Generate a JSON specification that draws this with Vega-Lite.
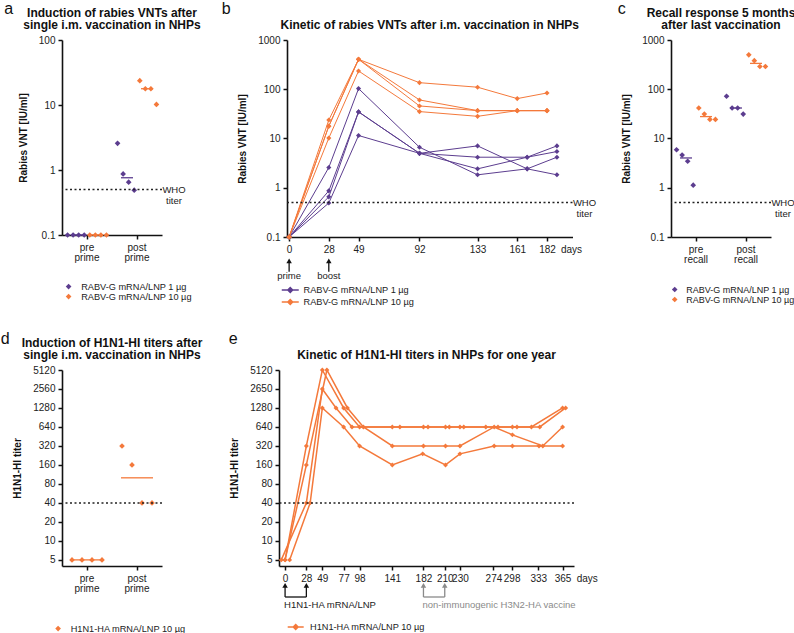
{
  "$schema": "https://vega.github.io/schema/vega-lite/v6.json",
  "background": "white",
  "padding": {"left": 0, "top": 0, "right": 0, "bottom": 0},
  "config": {
    "font": "Liberation Sans",
    "view": {"stroke": null},
    "axis": {"domainColor": "#111", "domainWidth": 1.6, "tickColor": "#111", "tickWidth": 1.5, "tickSize": 4, "labelFontSize": 10, "labelColor": "#222", "titleFontSize": 10, "titleFontWeight": "bold", "titleColor": "#111", "grid": false, "labelOverlap": false, "labelFlush": false, "labelPadding": 3},
    "title": {"fontSize": 12, "fontWeight": "bold", "color": "#111", "anchor": "middle", "lineHeight": 12.5},
    "legend": {"labelFontSize": 9.2, "labelColor": "#222", "direction": "vertical", "padding": 0, "rowPadding": 0, "labelLimit": 300}
  },
  "datasets": {
    "a": [
      {"time": "pre prime", "group": "RABV-G mRNA/LNP 1 µg", "animal": "A1", "value": 0.1},
      {"time": "pre prime", "group": "RABV-G mRNA/LNP 1 µg", "animal": "A2", "value": 0.1},
      {"time": "pre prime", "group": "RABV-G mRNA/LNP 1 µg", "animal": "A3", "value": 0.1},
      {"time": "pre prime", "group": "RABV-G mRNA/LNP 1 µg", "animal": "A4", "value": 0.1},
      {"time": "pre prime", "group": "RABV-G mRNA/LNP 10 µg", "animal": "B1", "value": 0.1},
      {"time": "pre prime", "group": "RABV-G mRNA/LNP 10 µg", "animal": "B2", "value": 0.1},
      {"time": "pre prime", "group": "RABV-G mRNA/LNP 10 µg", "animal": "B3", "value": 0.1},
      {"time": "pre prime", "group": "RABV-G mRNA/LNP 10 µg", "animal": "B4", "value": 0.1},
      {"time": "post prime", "group": "RABV-G mRNA/LNP 1 µg", "animal": "A1", "value": 2.57},
      {"time": "post prime", "group": "RABV-G mRNA/LNP 1 µg", "animal": "A2", "value": 0.87},
      {"time": "post prime", "group": "RABV-G mRNA/LNP 1 µg", "animal": "A3", "value": 0.65},
      {"time": "post prime", "group": "RABV-G mRNA/LNP 1 µg", "animal": "A4", "value": 0.49},
      {"time": "post prime", "group": "RABV-G mRNA/LNP 10 µg", "animal": "B1", "value": 23.7},
      {"time": "post prime", "group": "RABV-G mRNA/LNP 10 µg", "animal": "B2", "value": 17.8},
      {"time": "post prime", "group": "RABV-G mRNA/LNP 10 µg", "animal": "B3", "value": 17.8},
      {"time": "post prime", "group": "RABV-G mRNA/LNP 10 µg", "animal": "B4", "value": 10.2}
    ],
    "c": [
      {"time": "pre recall", "group": "RABV-G mRNA/LNP 1 µg", "animal": "A1", "value": 5.9},
      {"time": "pre recall", "group": "RABV-G mRNA/LNP 1 µg", "animal": "A2", "value": 4.6},
      {"time": "pre recall", "group": "RABV-G mRNA/LNP 1 µg", "animal": "A3", "value": 3.45},
      {"time": "pre recall", "group": "RABV-G mRNA/LNP 1 µg", "animal": "A4", "value": 1.13},
      {"time": "pre recall", "group": "RABV-G mRNA/LNP 10 µg", "animal": "B1", "value": 41.6},
      {"time": "pre recall", "group": "RABV-G mRNA/LNP 10 µg", "animal": "B2", "value": 31.3},
      {"time": "pre recall", "group": "RABV-G mRNA/LNP 10 µg", "animal": "B3", "value": 24.4},
      {"time": "pre recall", "group": "RABV-G mRNA/LNP 10 µg", "animal": "B4", "value": 24.4},
      {"time": "post recall", "group": "RABV-G mRNA/LNP 1 µg", "animal": "A1", "value": 72},
      {"time": "post recall", "group": "RABV-G mRNA/LNP 1 µg", "animal": "A2", "value": 41.6},
      {"time": "post recall", "group": "RABV-G mRNA/LNP 1 µg", "animal": "A3", "value": 41.6},
      {"time": "post recall", "group": "RABV-G mRNA/LNP 1 µg", "animal": "A4", "value": 31.3},
      {"time": "post recall", "group": "RABV-G mRNA/LNP 10 µg", "animal": "B1", "value": 500},
      {"time": "post recall", "group": "RABV-G mRNA/LNP 10 µg", "animal": "B2", "value": 380},
      {"time": "post recall", "group": "RABV-G mRNA/LNP 10 µg", "animal": "B3", "value": 290},
      {"time": "post recall", "group": "RABV-G mRNA/LNP 10 µg", "animal": "B4", "value": 290}
    ],
    "d": [
      {"time": "pre prime", "group": "H1N1-HA mRNA/LNP 10 µg", "animal": "H1", "value": 5},
      {"time": "pre prime", "group": "H1N1-HA mRNA/LNP 10 µg", "animal": "H2", "value": 5},
      {"time": "pre prime", "group": "H1N1-HA mRNA/LNP 10 µg", "animal": "H3", "value": 5},
      {"time": "pre prime", "group": "H1N1-HA mRNA/LNP 10 µg", "animal": "H4", "value": 5},
      {"time": "post prime", "group": "H1N1-HA mRNA/LNP 10 µg", "animal": "H1", "value": 320},
      {"time": "post prime", "group": "H1N1-HA mRNA/LNP 10 µg", "animal": "H2", "value": 160},
      {"time": "post prime", "group": "H1N1-HA mRNA/LNP 10 µg", "animal": "H3", "value": 40},
      {"time": "post prime", "group": "H1N1-HA mRNA/LNP 10 µg", "animal": "H4", "value": 40}
    ],
    "b": [
      {"group": "RABV-G mRNA/LNP 1 µg", "animal": "P1", "day": 0, "value": 0.1},
      {"group": "RABV-G mRNA/LNP 1 µg", "animal": "P1", "day": 28, "value": 2.58},
      {"group": "RABV-G mRNA/LNP 1 µg", "animal": "P1", "day": 49, "value": 103},
      {"group": "RABV-G mRNA/LNP 1 µg", "animal": "P1", "day": 92, "value": 6.65},
      {"group": "RABV-G mRNA/LNP 1 µg", "animal": "P1", "day": 133, "value": 1.83},
      {"group": "RABV-G mRNA/LNP 1 µg", "animal": "P1", "day": 168, "value": 2.42},
      {"group": "RABV-G mRNA/LNP 1 µg", "animal": "P1", "day": 189, "value": 4.17},
      {"group": "RABV-G mRNA/LNP 1 µg", "animal": "P2", "day": 0, "value": 0.1},
      {"group": "RABV-G mRNA/LNP 1 µg", "animal": "P2", "day": 28, "value": 0.865},
      {"group": "RABV-G mRNA/LNP 1 µg", "animal": "P2", "day": 49, "value": 34.7},
      {"group": "RABV-G mRNA/LNP 1 µg", "animal": "P2", "day": 92, "value": 5.0},
      {"group": "RABV-G mRNA/LNP 1 µg", "animal": "P2", "day": 133, "value": 7.08},
      {"group": "RABV-G mRNA/LNP 1 µg", "animal": "P2", "day": 168, "value": 2.42},
      {"group": "RABV-G mRNA/LNP 1 µg", "animal": "P2", "day": 189, "value": 1.83},
      {"group": "RABV-G mRNA/LNP 1 µg", "animal": "P3", "day": 0, "value": 0.1},
      {"group": "RABV-G mRNA/LNP 1 µg", "animal": "P3", "day": 28, "value": 0.653},
      {"group": "RABV-G mRNA/LNP 1 µg", "animal": "P3", "day": 49, "value": 34.7},
      {"group": "RABV-G mRNA/LNP 1 µg", "animal": "P3", "day": 92, "value": 5.0},
      {"group": "RABV-G mRNA/LNP 1 µg", "animal": "P3", "day": 133, "value": 4.17},
      {"group": "RABV-G mRNA/LNP 1 µg", "animal": "P3", "day": 168, "value": 4.17},
      {"group": "RABV-G mRNA/LNP 1 µg", "animal": "P3", "day": 189, "value": 5.43},
      {"group": "RABV-G mRNA/LNP 1 µg", "animal": "P4", "day": 0, "value": 0.1},
      {"group": "RABV-G mRNA/LNP 1 µg", "animal": "P4", "day": 28, "value": 0.49},
      {"group": "RABV-G mRNA/LNP 1 µg", "animal": "P4", "day": 49, "value": 11.5},
      {"group": "RABV-G mRNA/LNP 1 µg", "animal": "P4", "day": 92, "value": 5.0},
      {"group": "RABV-G mRNA/LNP 1 µg", "animal": "P4", "day": 133, "value": 2.42},
      {"group": "RABV-G mRNA/LNP 1 µg", "animal": "P4", "day": 168, "value": 4.17},
      {"group": "RABV-G mRNA/LNP 1 µg", "animal": "P4", "day": 189, "value": 7.08},
      {"group": "RABV-G mRNA/LNP 10 µg", "animal": "O1", "day": 0, "value": 0.1},
      {"group": "RABV-G mRNA/LNP 10 µg", "animal": "O1", "day": 28, "value": 23.7},
      {"group": "RABV-G mRNA/LNP 10 µg", "animal": "O1", "day": 49, "value": 405},
      {"group": "RABV-G mRNA/LNP 10 µg", "animal": "O1", "day": 92, "value": 136},
      {"group": "RABV-G mRNA/LNP 10 µg", "animal": "O1", "day": 133, "value": 110},
      {"group": "RABV-G mRNA/LNP 10 µg", "animal": "O1", "day": 161, "value": 64.6},
      {"group": "RABV-G mRNA/LNP 10 µg", "animal": "O1", "day": 182, "value": 84},
      {"group": "RABV-G mRNA/LNP 10 µg", "animal": "O2", "day": 0, "value": 0.1},
      {"group": "RABV-G mRNA/LNP 10 µg", "animal": "O2", "day": 28, "value": 17.8},
      {"group": "RABV-G mRNA/LNP 10 µg", "animal": "O2", "day": 49, "value": 405},
      {"group": "RABV-G mRNA/LNP 10 µg", "animal": "O2", "day": 92, "value": 60.7},
      {"group": "RABV-G mRNA/LNP 10 µg", "animal": "O2", "day": 133, "value": 36.8},
      {"group": "RABV-G mRNA/LNP 10 µg", "animal": "O2", "day": 161, "value": 36.8},
      {"group": "RABV-G mRNA/LNP 10 µg", "animal": "O2", "day": 182, "value": 36.8},
      {"group": "RABV-G mRNA/LNP 10 µg", "animal": "O3", "day": 0, "value": 0.1},
      {"group": "RABV-G mRNA/LNP 10 µg", "animal": "O3", "day": 28, "value": 17.8},
      {"group": "RABV-G mRNA/LNP 10 µg", "animal": "O3", "day": 49, "value": 405},
      {"group": "RABV-G mRNA/LNP 10 µg", "animal": "O3", "day": 92, "value": 45.8},
      {"group": "RABV-G mRNA/LNP 10 µg", "animal": "O3", "day": 133, "value": 36.8},
      {"group": "RABV-G mRNA/LNP 10 µg", "animal": "O3", "day": 161, "value": 36.8},
      {"group": "RABV-G mRNA/LNP 10 µg", "animal": "O3", "day": 182, "value": 36.8},
      {"group": "RABV-G mRNA/LNP 10 µg", "animal": "O4", "day": 0, "value": 0.1},
      {"group": "RABV-G mRNA/LNP 10 µg", "animal": "O4", "day": 28, "value": 10.2},
      {"group": "RABV-G mRNA/LNP 10 µg", "animal": "O4", "day": 49, "value": 235},
      {"group": "RABV-G mRNA/LNP 10 µg", "animal": "O4", "day": 92, "value": 35.2},
      {"group": "RABV-G mRNA/LNP 10 µg", "animal": "O4", "day": 133, "value": 28.2},
      {"group": "RABV-G mRNA/LNP 10 µg", "animal": "O4", "day": 161, "value": 36.8},
      {"group": "RABV-G mRNA/LNP 10 µg", "animal": "O4", "day": 182, "value": 36.8}
    ],
    "e": [
      {"group": "H1N1-HA mRNA/LNP 10 µg", "animal": "A", "day": -5, "value": 5},
      {"group": "H1N1-HA mRNA/LNP 10 µg", "animal": "A", "day": 28, "value": 40},
      {"group": "H1N1-HA mRNA/LNP 10 µg", "animal": "A", "day": 49, "value": 2560},
      {"group": "H1N1-HA mRNA/LNP 10 µg", "animal": "A", "day": 67, "value": 1280},
      {"group": "H1N1-HA mRNA/LNP 10 µg", "animal": "A", "day": 88, "value": 640},
      {"group": "H1N1-HA mRNA/LNP 10 µg", "animal": "A", "day": 141, "value": 640},
      {"group": "H1N1-HA mRNA/LNP 10 µg", "animal": "A", "day": 182, "value": 640},
      {"group": "H1N1-HA mRNA/LNP 10 µg", "animal": "A", "day": 211, "value": 640},
      {"group": "H1N1-HA mRNA/LNP 10 µg", "animal": "A", "day": 230, "value": 640},
      {"group": "H1N1-HA mRNA/LNP 10 µg", "animal": "A", "day": 264, "value": 640},
      {"group": "H1N1-HA mRNA/LNP 10 µg", "animal": "A", "day": 299, "value": 640},
      {"group": "H1N1-HA mRNA/LNP 10 µg", "animal": "A", "day": 324, "value": 640},
      {"group": "H1N1-HA mRNA/LNP 10 µg", "animal": "A", "day": 365, "value": 1280},
      {"group": "H1N1-HA mRNA/LNP 10 µg", "animal": "B", "day": 0, "value": 5},
      {"group": "H1N1-HA mRNA/LNP 10 µg", "animal": "B", "day": 28, "value": 320},
      {"group": "H1N1-HA mRNA/LNP 10 µg", "animal": "B", "day": 49, "value": 5120},
      {"group": "H1N1-HA mRNA/LNP 10 µg", "animal": "B", "day": 77, "value": 1280},
      {"group": "H1N1-HA mRNA/LNP 10 µg", "animal": "B", "day": 98, "value": 640},
      {"group": "H1N1-HA mRNA/LNP 10 µg", "animal": "B", "day": 151, "value": 640},
      {"group": "H1N1-HA mRNA/LNP 10 µg", "animal": "B", "day": 188, "value": 640},
      {"group": "H1N1-HA mRNA/LNP 10 µg", "animal": "B", "day": 216, "value": 640},
      {"group": "H1N1-HA mRNA/LNP 10 µg", "animal": "B", "day": 235, "value": 640},
      {"group": "H1N1-HA mRNA/LNP 10 µg", "animal": "B", "day": 280, "value": 640},
      {"group": "H1N1-HA mRNA/LNP 10 µg", "animal": "B", "day": 305, "value": 640},
      {"group": "H1N1-HA mRNA/LNP 10 µg", "animal": "B", "day": 335, "value": 640},
      {"group": "H1N1-HA mRNA/LNP 10 µg", "animal": "B", "day": 369, "value": 1280},
      {"group": "H1N1-HA mRNA/LNP 10 µg", "animal": "C", "day": 0, "value": 5},
      {"group": "H1N1-HA mRNA/LNP 10 µg", "animal": "C", "day": 28, "value": 160},
      {"group": "H1N1-HA mRNA/LNP 10 µg", "animal": "C", "day": 55, "value": 5120},
      {"group": "H1N1-HA mRNA/LNP 10 µg", "animal": "C", "day": 82, "value": 1280},
      {"group": "H1N1-HA mRNA/LNP 10 µg", "animal": "C", "day": 103, "value": 640},
      {"group": "H1N1-HA mRNA/LNP 10 µg", "animal": "C", "day": 141, "value": 320},
      {"group": "H1N1-HA mRNA/LNP 10 µg", "animal": "C", "day": 182, "value": 320},
      {"group": "H1N1-HA mRNA/LNP 10 µg", "animal": "C", "day": 211, "value": 320},
      {"group": "H1N1-HA mRNA/LNP 10 µg", "animal": "C", "day": 230, "value": 320},
      {"group": "H1N1-HA mRNA/LNP 10 µg", "animal": "C", "day": 275, "value": 640},
      {"group": "H1N1-HA mRNA/LNP 10 µg", "animal": "C", "day": 299, "value": 480},
      {"group": "H1N1-HA mRNA/LNP 10 µg", "animal": "C", "day": 339, "value": 320},
      {"group": "H1N1-HA mRNA/LNP 10 µg", "animal": "C", "day": 365, "value": 640},
      {"group": "H1N1-HA mRNA/LNP 10 µg", "animal": "D", "day": 6, "value": 5},
      {"group": "H1N1-HA mRNA/LNP 10 µg", "animal": "D", "day": 33, "value": 40},
      {"group": "H1N1-HA mRNA/LNP 10 µg", "animal": "D", "day": 49, "value": 1280},
      {"group": "H1N1-HA mRNA/LNP 10 µg", "animal": "D", "day": 77, "value": 640},
      {"group": "H1N1-HA mRNA/LNP 10 µg", "animal": "D", "day": 98, "value": 320},
      {"group": "H1N1-HA mRNA/LNP 10 µg", "animal": "D", "day": 141, "value": 160},
      {"group": "H1N1-HA mRNA/LNP 10 µg", "animal": "D", "day": 181, "value": 240},
      {"group": "H1N1-HA mRNA/LNP 10 µg", "animal": "D", "day": 211, "value": 160},
      {"group": "H1N1-HA mRNA/LNP 10 µg", "animal": "D", "day": 230, "value": 240},
      {"group": "H1N1-HA mRNA/LNP 10 µg", "animal": "D", "day": 275, "value": 320},
      {"group": "H1N1-HA mRNA/LNP 10 µg", "animal": "D", "day": 299, "value": 320},
      {"group": "H1N1-HA mRNA/LNP 10 µg", "animal": "D", "day": 334, "value": 320},
      {"group": "H1N1-HA mRNA/LNP 10 µg", "animal": "D", "day": 365, "value": 320}
    ],
    "who": [{"titer": 0.5, "label": ["WHO", "titer"]}],
    "hi40": [{"titer": 40}],
    "ann_b": [{"day": 0, "label": "prime"}, {"day": 28, "label": "boost"}],
    "ann_e": [
      {"day": 0, "end": 28, "label": "H1N1-HA mRNA/LNP", "kind": "mRNA"},
      {"day": 182, "end": 210, "label": "non-immunogenic H3N2-HA vaccine", "kind": "H3N2"}
    ]
  },
  "spacing": 22,
  "resolve": {"scale": {"x": "independent", "y": "independent", "color": "independent", "xOffset": "independent"}, "axis": {"x": "independent", "y": "independent"}, "legend": {"color": "independent"}},
  "vconcat": [
    {
      "spacing": 20,
      "resolve": {"scale": {"x": "independent", "y": "independent", "color": "independent", "xOffset": "independent"}, "axis": {"x": "independent", "y": "independent"}, "legend": {"color": "independent"}},
      "hconcat": [
        {
          "title": {"text": "a", "fontSize": 16, "fontWeight": "normal", "anchor": "start", "frame": "bounds", "offset": -23, "dx": -14, "baseline": "alphabetic"},
          "resolve": {"scale": {"x": "independent", "y": "independent", "color": "independent", "xOffset": "independent"}, "legend": {"color": "independent"}},
          "vconcat": [
            {
              "width": 100, "height": 195,
              "title": {"text": ["Induction of rabies VNTs after", "single i.m. vaccination in NHPs"], "frame": "group", "offset": 3, "lineHeight": 12.5},
              "layer": [
                {
                  "data": {"name": "a"},
                  "mark": {"type": "point", "shape": "diamond", "filled": true, "size": 32, "opacity": 1},
                  "encoding": {
                    "x": {"field": "time", "type": "nominal", "scale": {"type": "band", "domain": ["pre prime", "post prime"], "paddingInner": 0, "paddingOuter": 0}, "axis": {"title": null, "labelAngle": 0, "labelExpr": "split(datum.label, ' ')", "labelLineHeight": 10.5}},
                    "xOffset": {"field": "animal", "type": "nominal", "scale": {"domain": ["A1", "A2", "A3", "A4", "B1", "B2", "B3", "B4"], "paddingInner": 0, "paddingOuter": 1.55}},
                    "y": {"field": "value", "type": "quantitative", "title": "Rabies VNT [IU/ml]", "scale": {"type": "log", "domain": [0.1, 100], "nice": false}, "axis": {"values": [0.1, 1, 10, 100], "tickCount": 20, "labelExpr": "format(datum.value, '~g')", "titlePadding": 10, "labelOverlap": false}},
                    "color": {"field": "group", "type": "nominal", "scale": {"domain": ["RABV-G mRNA/LNP 1 µg", "RABV-G mRNA/LNP 10 µg"], "range": ["#5c3d8f", "#f4793b"]}, "legend": {"title": null, "orient": "none", "legendX": 2, "legendY": 242, "symbolType": "diamond", "symbolSize": 32, "labelOffset": 8}}
                  }
                },
                {
                  "data": {"name": "a"},
                  "transform": [{"aggregate": [{"op": "median", "field": "value", "as": "value"}], "groupby": ["time", "group"]}],
                  "mark": {"type": "tick", "thickness": 1.3, "size": 12, "opacity": 1},
                  "encoding": {
                    "x": {"field": "time", "type": "nominal"},
                    "xOffset": {"field": "group", "type": "nominal", "scale": {"domain": ["RABV-G mRNA/LNP 1 µg", "RABV-G mRNA/LNP 10 µg"], "paddingInner": 0, "paddingOuter": 0.25}},
                    "y": {"field": "value", "type": "quantitative", "title": "Rabies VNT [IU/ml]"},
                    "color": {"field": "group", "type": "nominal", "legend": null}
                  }
                },
                {
                  "data": {"name": "who"},
                  "mark": {"type": "rule", "strokeDash": [2, 2.5], "strokeWidth": 1.5, "color": "#222"},
                  "encoding": {"y": {"field": "titer", "type": "quantitative", "title": "Rabies VNT [IU/ml]"}}
                },
                {
                  "data": {"name": "who"},
                  "mark": {"type": "text", "align": "center", "baseline": "middle", "fontSize": 9.5, "lineHeight": 11, "dx": 12, "color": "#222"},
                  "encoding": {"x": {"value": "width"}, "y": {"field": "titer", "type": "quantitative", "title": "Rabies VNT [IU/ml]"}, "text": {"field": "label"}}
                }
              ],
              "resolve": {"scale": {"xOffset": "independent"}}
            }
          ]
        },
        {
          "title": {"text": "b", "fontSize": 16, "fontWeight": "normal", "anchor": "start", "frame": "bounds", "offset": -23, "dx": -16, "baseline": "alphabetic"},
          "resolve": {"scale": {"x": "independent", "y": "independent", "color": "independent", "xOffset": "independent"}, "legend": {"color": "independent"}},
          "vconcat": [
            {
              "width": 285.5, "height": 197,
              "title": {"text": [" ", "Kinetic of rabies VNTs after i.m. vaccination in NHPs"], "frame": "group", "offset": 3, "lineHeight": 12.5},
              "layer": [
                {
                  "data": {"name": "b"},
                  "mark": {"type": "line", "strokeWidth": 1},
                  "encoding": {
                    "x": {"field": "day", "type": "quantitative", "title": "days", "scale": {"domain": [-1.5, 200], "nice": false, "zero": false}, "axis": {"values": [0, 28, 49, 92, 133, 161, 182], "tickCount": 20, "labelOverlap": false, "title": "days", "titleX": 284, "titleY": 12, "titleBaseline": "middle", "titleAlign": "center", "titleAngle": 0, "titleFontWeight": "normal", "titleFontSize": 10, "titleColor": "#222"}},
                    "y": {"field": "value", "type": "quantitative", "title": "Rabies VNT [IU/ml]", "scale": {"type": "log", "domain": [0.1, 1000], "nice": false}, "axis": {"values": [0.1, 1, 10, 100, 1000], "tickCount": 20, "labelExpr": "format(datum.value, '~g')", "titlePadding": 10, "labelOverlap": false}},
                    "color": {"field": "group", "type": "nominal", "scale": {"domain": ["RABV-G mRNA/LNP 1 µg", "RABV-G mRNA/LNP 10 µg"], "range": ["#5c3d8f", "#f4793b"]}, "legend": {"title": null, "orient": "none", "legendX": -1.75, "legendY": 245, "symbolType": "M-2,0L2,0M0,-0.6L0.6,0L0,0.6L-0.6,0Z", "symbolSize": 72.25, "symbolStrokeWidth": 1.3, "labelOffset": 8.25}},
                    "detail": {"field": "animal"}
                  }
                },
                {
                  "data": {"name": "b"},
                  "mark": {"type": "point", "shape": "diamond", "filled": true, "size": 26, "opacity": 1},
                  "encoding": {
                    "x": {"field": "day", "type": "quantitative", "title": "days"},
                    "y": {"field": "value", "type": "quantitative", "title": "Rabies VNT [IU/ml]"},
                    "color": {"field": "group", "type": "nominal", "legend": null}
                  }
                },
                {
                  "data": {"name": "who"},
                  "mark": {"type": "rule", "strokeDash": [2, 2.5], "strokeWidth": 1.5, "color": "#222"},
                  "encoding": {"y": {"field": "titer", "type": "quantitative", "title": "Rabies VNT [IU/ml]"}}
                },
                {
                  "data": {"name": "who"},
                  "mark": {"type": "text", "align": "center", "baseline": "middle", "fontSize": 9.5, "lineHeight": 11, "dx": 12, "color": "#222"},
                  "encoding": {"x": {"value": "width"}, "y": {"field": "titer", "type": "quantitative", "title": "Rabies VNT [IU/ml]"}, "text": {"field": "label"}}
                },
                {
                  "data": {"name": "ann_b"},
                  "mark": {"type": "rule", "color": "#111", "strokeWidth": 1.3},
                  "encoding": {"x": {"field": "day", "type": "quantitative", "title": "days"}, "y": {"datum": 0.0326, "title": "Rabies VNT [IU/ml]"}, "y2": {"datum": 0.0197}}
                },
                {
                  "data": {"name": "ann_b"},
                  "mark": {"type": "point", "shape": "triangle-up", "filled": true, "size": 30, "color": "#111", "opacity": 1},
                  "encoding": {"x": {"field": "day", "type": "quantitative", "title": "days"}, "y": {"datum": 0.0326, "title": "Rabies VNT [IU/ml]"}}
                },
                {
                  "data": {"name": "ann_b"},
                  "mark": {"type": "text", "fontSize": 9.5, "color": "#222", "baseline": "middle", "align": "center"},
                  "encoding": {"x": {"field": "day", "type": "quantitative", "title": "days"}, "y": {"datum": 0.0161, "title": "Rabies VNT [IU/ml]"}, "text": {"field": "label"}}
                }
              ]
            }
          ]
        },
        {
          "title": {"text": "c", "fontSize": 16, "fontWeight": "normal", "anchor": "start", "frame": "bounds", "offset": -23, "dx": -4, "baseline": "alphabetic"},
          "resolve": {"scale": {"x": "independent", "y": "independent", "color": "independent", "xOffset": "independent"}, "legend": {"color": "independent"}},
          "vconcat": [
            {
              "width": 100, "height": 197,
              "title": {"text": ["Recall response 5 months", "after last vaccination"], "frame": "group", "offset": 3, "lineHeight": 12.5},
              "layer": [
                {
                  "data": {"name": "c"},
                  "mark": {"type": "point", "shape": "diamond", "filled": true, "size": 32, "opacity": 1},
                  "encoding": {
                    "x": {"field": "time", "type": "nominal", "scale": {"type": "band", "domain": ["pre recall", "post recall"], "paddingInner": 0, "paddingOuter": 0}, "axis": {"title": null, "labelAngle": 0, "labelExpr": "split(datum.label, ' ')", "labelLineHeight": 10.5}},
                    "xOffset": {"field": "animal", "type": "nominal", "scale": {"domain": ["A1", "A2", "A3", "A4", "B1", "B2", "B3", "B4"], "paddingInner": 0, "paddingOuter": 1.55}},
                    "y": {"field": "value", "type": "quantitative", "title": "Rabies VNT [IU/ml]", "scale": {"type": "log", "domain": [0.1, 1000], "nice": false}, "axis": {"values": [0.1, 1, 10, 100, 1000], "tickCount": 20, "labelExpr": "format(datum.value, '~g')", "titlePadding": 10, "labelOverlap": false}},
                    "color": {"field": "group", "type": "nominal", "scale": {"domain": ["RABV-G mRNA/LNP 1 µg", "RABV-G mRNA/LNP 10 µg"], "range": ["#5c3d8f", "#f4793b"]}, "legend": {"title": null, "orient": "none", "legendX": -0.8, "legendY": 245, "symbolType": "diamond", "symbolSize": 32, "labelOffset": 7, "labelFontSize": 9}}
                  }
                },
                {
                  "data": {"name": "c"},
                  "transform": [{"aggregate": [{"op": "median", "field": "value", "as": "value"}], "groupby": ["time", "group"]}],
                  "mark": {"type": "tick", "thickness": 1.3, "size": 12, "opacity": 1},
                  "encoding": {
                    "x": {"field": "time", "type": "nominal"},
                    "xOffset": {"field": "group", "type": "nominal", "scale": {"domain": ["RABV-G mRNA/LNP 1 µg", "RABV-G mRNA/LNP 10 µg"], "paddingInner": 0, "paddingOuter": 0.25}},
                    "y": {"field": "value", "type": "quantitative", "title": "Rabies VNT [IU/ml]"},
                    "color": {"field": "group", "type": "nominal", "legend": null}
                  }
                },
                {
                  "data": {"name": "who"},
                  "mark": {"type": "rule", "strokeDash": [2, 2.5], "strokeWidth": 1.5, "color": "#222"},
                  "encoding": {"y": {"field": "titer", "type": "quantitative", "title": "Rabies VNT [IU/ml]"}}
                },
                {
                  "data": {"name": "who"},
                  "mark": {"type": "text", "align": "center", "baseline": "middle", "fontSize": 9.5, "lineHeight": 11, "dx": 12, "color": "#222"},
                  "encoding": {"x": {"value": "width"}, "y": {"field": "titer", "type": "quantitative", "title": "Rabies VNT [IU/ml]"}, "text": {"field": "label"}}
                }
              ],
              "resolve": {"scale": {"xOffset": "independent"}}
            }
          ]
        }
      ]
    },
    {
      "spacing": 25,
      "resolve": {"scale": {"x": "independent", "y": "independent", "color": "independent", "xOffset": "independent"}, "axis": {"x": "independent", "y": "independent"}, "legend": {"color": "independent"}},
      "hconcat": [
        {
          "title": {"text": "d", "fontSize": 16, "fontWeight": "normal", "anchor": "start", "frame": "bounds", "offset": -23, "dx": -12, "baseline": "alphabetic"},
          "resolve": {"scale": {"x": "independent", "y": "independent", "color": "independent", "xOffset": "independent"}, "legend": {"color": "independent"}},
          "vconcat": [
            {
              "width": 100, "height": 196,
              "title": {"text": ["Induction of H1N1-HI titers after", "single i.m. vaccination in NHPs"], "frame": "group", "offset": 3, "lineHeight": 12.5},
              "layer": [
                {
                  "data": {"name": "d"},
                  "mark": {"type": "point", "shape": "diamond", "filled": true, "size": 32, "opacity": 1},
                  "encoding": {
                    "x": {"field": "time", "type": "nominal", "scale": {"type": "band", "domain": ["pre prime", "post prime"], "paddingInner": 0, "paddingOuter": 0}, "axis": {"title": null, "labelAngle": 0, "labelExpr": "split(datum.label, ' ')", "labelLineHeight": 10.5}},
                    "xOffset": {"field": "animal", "type": "nominal", "scale": {"domain": ["H1", "H2", "H3", "H4"], "paddingInner": 0, "paddingOuter": 1.25}},
                    "y": {"field": "value", "type": "quantitative", "title": "H1N1-HI titer", "scale": {"type": "log", "base": 2, "domain": [4, 5120], "nice": false}, "axis": {"values": [5, 10, 20, 40, 80, 160, 320, 640, 1280, 2560, 5120], "tickCount": 20, "labelExpr": "format(datum.value, '~g')", "titlePadding": 10, "labelOverlap": false}},
                    "color": {"field": "group", "type": "nominal", "scale": {"domain": ["H1N1-HA mRNA/LNP 10 µg"], "range": ["#f4793b"]}, "legend": {"title": null, "orient": "none", "legendX": -8.5, "legendY": 254, "symbolType": "diamond", "symbolSize": 32, "labelOffset": 8}}
                  }
                },
                {
                  "data": {"name": "d"},
                  "transform": [{"aggregate": [{"op": "median", "field": "value", "as": "value"}], "groupby": ["time", "group"]}],
                  "mark": {"type": "tick", "thickness": 1.3, "size": 32, "opacity": 1},
                  "encoding": {
                    "x": {"field": "time", "type": "nominal"},
                    "y": {"field": "value", "type": "quantitative", "title": "H1N1-HI titer"},
                    "color": {"field": "group", "type": "nominal", "legend": null}
                  }
                },
                {
                  "data": {"name": "hi40"},
                  "mark": {"type": "rule", "strokeDash": [2, 2.5], "strokeWidth": 1.5, "color": "#222"},
                  "encoding": {"y": {"field": "titer", "type": "quantitative", "title": "H1N1-HI titer"}}
                }
              ],
              "resolve": {"scale": {"xOffset": "independent"}}
            }
          ]
        },
        {
          "title": {"text": "e", "fontSize": 16, "fontWeight": "normal", "anchor": "start", "frame": "bounds", "offset": -23, "dx": -1, "baseline": "alphabetic"},
          "resolve": {"scale": {"x": "independent", "y": "independent", "color": "independent", "xOffset": "independent"}, "legend": {"color": "independent"}},
          "vconcat": [
            {
              "width": 295, "height": 196,
              "title": {"text": [" ", "Kinetic of H1N1-HI titers in NHPs for one year"], "frame": "group", "offset": 3, "lineHeight": 12.5},
              "layer": [
                {
                  "data": {"name": "e"},
                  "mark": {"type": "line", "strokeWidth": 1.5},
                  "encoding": {
                    "x": {"field": "day", "type": "quantitative", "title": "days", "scale": {"domain": [-8, 380], "nice": false, "zero": false}, "axis": {"values": [0, 28, 49, 77, 98, 141, 182, 210, 230, 274, 298, 333, 365], "tickCount": 30, "labelOverlap": false, "title": "days", "titleX": 307.7, "titleY": 12, "titleBaseline": "middle", "titleAlign": "center", "titleAngle": 0, "titleFontWeight": "normal", "titleFontSize": 10, "titleColor": "#222"}},
                    "y": {"field": "value", "type": "quantitative", "title": "H1N1-HI titer", "scale": {"type": "log", "base": 2, "domain": [4, 5120], "nice": false}, "axis": {"values": [5, 10, 20, 40, 80, 160, 320, 640, 1280, 2560, 5120], "tickCount": 20, "labelExpr": "datum.value == 2560 ? '2650' : format(datum.value, '~g')", "titlePadding": 10, "labelOverlap": false}},
                    "color": {"field": "group", "type": "nominal", "scale": {"domain": ["H1N1-HA mRNA/LNP 10 µg"], "range": ["#f4793b"]}, "legend": {"title": null, "orient": "none", "legendX": 11.7, "legendY": 252, "symbolType": "M-2,0L2,0M0,-0.6L0.6,0L0,0.6L-0.6,0Z", "symbolSize": 64, "symbolStrokeWidth": 1.5, "labelOffset": 9.3}},
                    "detail": {"field": "animal"}
                  }
                },
                {
                  "data": {"name": "e"},
                  "mark": {"type": "point", "shape": "diamond", "filled": true, "size": 24, "opacity": 1},
                  "encoding": {
                    "x": {"field": "day", "type": "quantitative", "title": "days"},
                    "y": {"field": "value", "type": "quantitative", "title": "H1N1-HI titer"},
                    "color": {"field": "group", "type": "nominal", "legend": null}
                  }
                },
                {
                  "data": {"name": "hi40"},
                  "mark": {"type": "rule", "strokeDash": [2, 2.5], "strokeWidth": 1.5, "color": "#222"},
                  "encoding": {"y": {"field": "titer", "type": "quantitative", "title": "H1N1-HI titer"}}
                },
                {
                  "data": {"name": "ann_e"},
                  "mark": {"type": "rule", "strokeWidth": 1.3},
                  "encoding": {"x": {"field": "day", "type": "quantitative", "title": "days"}, "y": {"datum": 1.98, "title": "H1N1-HI titer"}, "y2": {"datum": 1.29}, "color": {"condition": {"test": "datum.kind === 'H3N2'", "value": "#8a8a8a"}, "value": "#111"}}
                },
                {
                  "data": {"name": "ann_e"},
                  "mark": {"type": "rule", "strokeWidth": 1.3},
                  "encoding": {"x": {"field": "end", "type": "quantitative", "title": "days"}, "y": {"datum": 1.98, "title": "H1N1-HI titer"}, "y2": {"datum": 1.29}, "color": {"condition": {"test": "datum.kind === 'H3N2'", "value": "#8a8a8a"}, "value": "#111"}}
                },
                {
                  "data": {"name": "ann_e"},
                  "mark": {"type": "rule", "strokeWidth": 1.3},
                  "encoding": {"x": {"field": "day", "type": "quantitative", "title": "days"}, "x2": {"field": "end"}, "y": {"datum": 1.29, "title": "H1N1-HI titer"}, "color": {"condition": {"test": "datum.kind === 'H3N2'", "value": "#8a8a8a"}, "value": "#111"}}
                },
                {
                  "data": {"name": "ann_e"},
                  "mark": {"type": "point", "shape": "triangle-up", "filled": true, "size": 30, "opacity": 1},
                  "encoding": {"x": {"field": "day", "type": "quantitative", "title": "days"}, "y": {"datum": 1.98, "title": "H1N1-HI titer"}, "color": {"condition": {"test": "datum.kind === 'H3N2'", "value": "#8a8a8a"}, "value": "#111"}}
                },
                {
                  "data": {"name": "ann_e"},
                  "mark": {"type": "point", "shape": "triangle-up", "filled": true, "size": 30, "opacity": 1},
                  "encoding": {"x": {"field": "end", "type": "quantitative", "title": "days"}, "y": {"datum": 1.98, "title": "H1N1-HI titer"}, "color": {"condition": {"test": "datum.kind === 'H3N2'", "value": "#8a8a8a"}, "value": "#111"}}
                },
                {
                  "data": {"name": "ann_e"},
                  "mark": {"type": "text", "fontSize": 9.5, "align": "left", "baseline": "middle", "dx": -1},
                  "encoding": {"x": {"field": "day", "type": "quantitative", "title": "days"}, "y": {"datum": 0.953, "title": "H1N1-HI titer"}, "text": {"field": "label"}, "color": {"condition": {"test": "datum.kind === 'H3N2'", "value": "#8a8a8a"}, "value": "#222"}}
                }
              ]
            }
          ]
        }
      ]
    }
  ]
}
